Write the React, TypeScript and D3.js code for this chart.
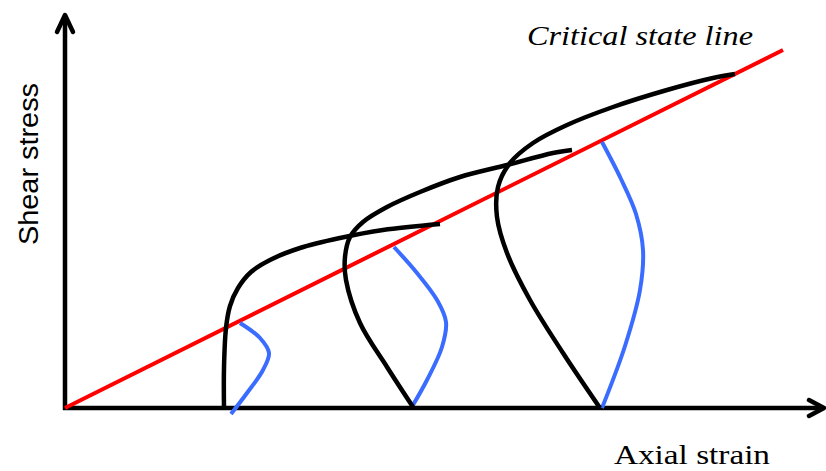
import React from "react";
import * as d3 from "d3";

// units: offset from origin along each axis
const csl: [number, number][] = [[0, 0], [718, 358]];

const blackCurves: [number, number][][] = [
  [[159, 0], [159, 40], [161, 80], [165, 102], [173, 120], [186, 136], [205, 148], [235, 160], [275, 170], [318, 178], [375, 184]],
  [[348, 1], [322, 41], [295, 85], [281, 128], [280, 151], [285, 171], [298, 186], [322, 201], [355, 216], [395, 231], [442, 243], [488, 255], [507, 258]],
  [[535, 0], [498, 55], [465, 108], [442, 155], [432, 191], [433, 221], [445, 245], [468, 265], [502, 283], [548, 301], [602, 318], [648, 330], [670, 334]],
];

const blueCurves: [number, number][][] = [
  [[175, 85], [195, 70], [204, 55], [198, 38], [182, 15], [166, -6]],
  [[329, 161], [352, 135], [372, 108], [381, 86], [377, 61], [362, 28], [348, 3]],
  [[537, 266], [556, 229], [571, 194], [578, 158], [575, 118], [560, 62], [537, 0]],
];

const xLabel = "Axial strain";
const yLabel = "Shear stress";
const cslLabel = "Critical state line";

export default function App() {
  const W = 826, H = 471;
  const x = d3.scaleLinear().domain([0, 760]).range([65, 825]);
  const y = d3.scaleLinear().domain([0, 408]).range([408, 0]);
  const line = d3.line<[number, number]>()
    .x(d => x(d[0]))
    .y(d => y(d[1]))
    .curve(d3.curveCatmullRom.alpha(0.5));

  const ox = x(0), oy = y(0);
  const xEnd = x(759), yEnd = y(393);

  return (
    <svg width={W} height={H} style={{ position: "absolute", left: 0, top: 0, background: "#fff" }}>
      {/* axes */}
      <g stroke="#000" strokeWidth={4.5} fill="none">
        <line x1={ox} y1={oy + 2} x2={ox} y2={yEnd + 1} />
        <line x1={ox - 2} y1={oy} x2={xEnd - 1} y2={oy} />
        <path d={`M${ox - 8},${yEnd + 17} L${ox},${yEnd} L${ox + 8},${yEnd + 17}`} strokeLinecap="round" strokeLinejoin="round" />
        <path d={`M${xEnd - 15},${oy - 8} L${xEnd},${oy} L${xEnd - 15},${oy + 8}`} strokeLinecap="round" strokeLinejoin="round" />
      </g>

      {/* critical state line */}
      <path d={line(csl) || ""} stroke="#ff0000" strokeWidth={4} fill="none" />

      {blueCurves.map((c, i) => (
        <path key={"b" + i} d={line(c) || ""} stroke="#3a6cff" strokeWidth={4} fill="none" />
      ))}
      {blackCurves.map((c, i) => (
        <path key={"k" + i} d={line(c) || ""} stroke="#000" strokeWidth={4.5} fill="none" />
      ))}

      <text x={527} y={45} textLength={226} lengthAdjust="spacingAndGlyphs" fontFamily="'Liberation Serif', serif" fontStyle="italic" fontSize={28}>
        {cslLabel}
      </text>
      <text x={614} y={464} textLength={156} lengthAdjust="spacingAndGlyphs" fontFamily="'Liberation Serif', serif" fontSize={28}>
        {xLabel}
      </text>
      <text transform="translate(38,245) rotate(-90)" textLength={162} lengthAdjust="spacingAndGlyphs" fontFamily="'Liberation Sans', Arial, sans-serif" fontSize={27}>
        {yLabel}
      </text>
    </svg>
  );
}
